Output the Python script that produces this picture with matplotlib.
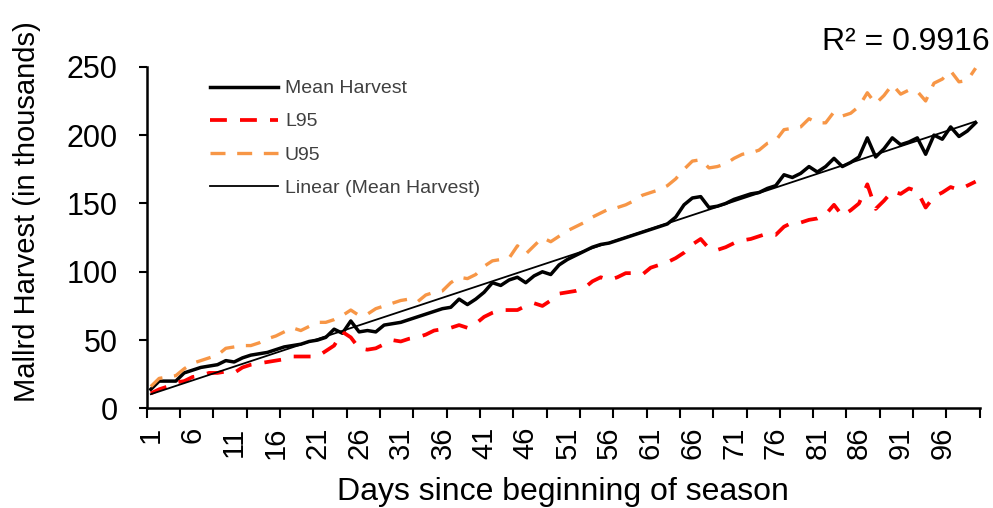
import numpy as np
import matplotlib
matplotlib.use("Agg")
import matplotlib.pyplot as plt

plt.rcParams['font.family'] = ['Liberation Sans', 'DejaVu Sans']

# days since beginning of season (100 categories)
days = np.arange(1, 101)

mean_harvest = [14, 20, 20, 20, 26, 28, 30, 31, 32, 35,
                34, 37, 39, 40, 41, 43, 45, 46, 47, 49,
                50, 52, 58, 55, 64, 56, 57, 56, 61, 62,
                63, 65, 67, 69, 71, 73, 74, 80, 76, 80,
                85, 92, 90, 94, 96, 92, 97, 100, 98, 105,
                109, 112, 115, 118, 120, 121, 123, 125, 127, 129,
                131, 133, 135, 140, 149, 154, 155, 147, 148, 150,
                153, 155, 157, 158, 161, 163, 171, 169, 172, 177,
                173, 177, 183, 177, 180, 184, 198, 184, 190, 198,
                193, 195, 198, 186, 200, 197, 206, 199, 203, 209]

l95 = [11, 14, 16, 19, 20, 23, 24, 26, 26, 27,
       26, 30, 32, 33, 34, 35, 36, 38, 38, 38,
       38, 42, 46, 56, 52, 44, 43, 44, 47, 50,
       49, 51, 52, 54, 57, 58, 59, 61, 59, 62,
       67, 70, 72, 72, 72, 75, 77, 75, 79, 84,
       85, 86, 88, 93, 96, 94, 96, 99, 99, 98,
       103, 105, 107, 110, 114, 120, 124, 117, 116, 118,
       121, 123, 124, 126, 128, 127, 133, 136, 136, 138,
       139, 142, 149, 141, 145, 150, 164, 146, 152, 159,
       157, 161, 159, 147, 155, 158, 162, 160, 163, 166]

u95 = [16, 22, 23, 24, 29, 33, 35, 37, 39, 44,
       45, 46, 46, 48, 51, 53, 56, 59, 57, 60,
       63, 63, 65, 68, 72, 68, 69, 73, 75, 77,
       79, 80, 78, 83, 85, 86, 92, 96, 95, 98,
       104, 108, 109, 110, 119, 113, 119, 125, 122, 126,
       130, 133, 136, 140, 143, 146, 147, 149, 152, 156,
       158, 160, 163, 168, 175, 181, 182, 176, 177, 179,
       183, 186, 187, 189, 194, 196, 204, 205, 206, 212,
       209, 209, 217, 214, 216, 221, 231, 223, 229, 237,
       230, 233, 232, 225, 238, 241, 247, 239, 240, 249]

label_days = list(range(1, 100, 5))
r2_text = "R² = 0.9916"

# linear trendline of the mean
coef = np.polyfit(days, mean_harvest, 1)
trend = np.polyval(coef, days)

fig = plt.figure(figsize=(9.93, 5.08), dpi=100)
ax = fig.add_axes([0.1477, 0.196, 0.839, 0.6725])

ax.plot(days, mean_harvest, color='black', lw=2.5, label='Mean Harvest')
ax.plot(days, l95, color='#FF0000', lw=2.7, ls=(0, (4.5, 3.5)), label='L95')
ax.plot(days, u95, color='#F79646', lw=2.4, ls=(0, (4.5, 3.5)), label='U95')
ax.plot(days, trend, color='black', lw=1.3, label='Linear (Mean Harvest)')

ax.set_xlim(0.5, 100.5)
ax.set_ylim(0, 250)
ax.set_yticks(range(0, 251, 50))

# tick marks on category boundaries every 4 days, labels every 5 days
ax.set_xticks(np.arange(0.5, 101, 4))
ax.set_xticklabels([])
ax.set_xticks(label_days, minor=True)
ax.set_xticklabels([str(d) for d in label_days], minor=True, rotation=90)
ax.tick_params(axis='x', which='minor', length=0, pad=13, labelsize=21)
ax.tick_params(axis='x', which='major', length=7, width=1.5, direction='out')
ax.tick_params(axis='y', length=6, width=1.5, direction='out', labelsize=22, pad=15)

for side in ['top', 'right']:
    ax.spines[side].set_visible(False)
for side in ['left', 'bottom']:
    ax.spines[side].set_linewidth(1.8)

ax.set_xlabel('Days since beginning of season', fontsize=23, labelpad=13)
ax.set_ylabel('Mallrd Harvest (in thousands)', fontsize=21)
ax.yaxis.set_label_coords(-0.127, 0.575)

ax.legend(loc='upper left', bbox_to_anchor=(0.0666, 0.985), borderaxespad=0,
          frameon=False, fontsize=14, handlelength=3.5, handletextpad=0.36,
          labelspacing=0.8, labelcolor='#404040')

fig.text(0.997, 0.918, r2_text, ha='right', va='center', fontsize=23)

fig.savefig('out.png', dpi=100)
